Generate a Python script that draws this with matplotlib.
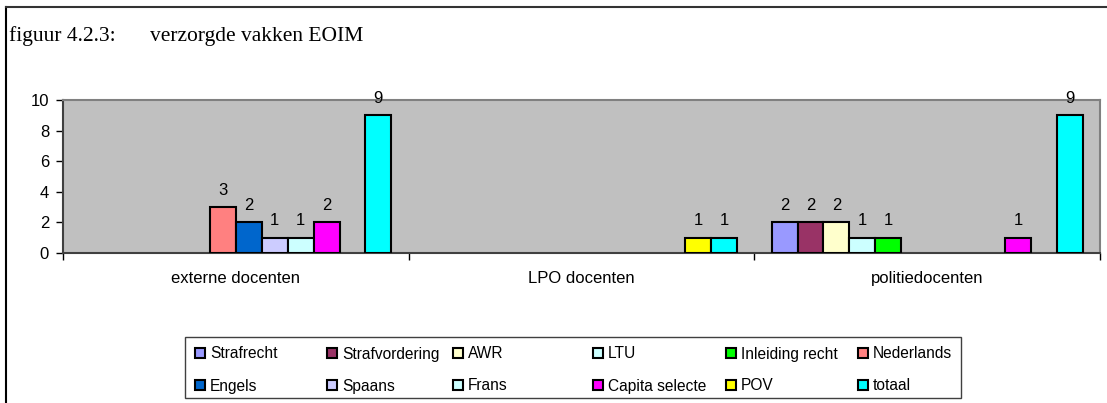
import matplotlib
matplotlib.use('Agg')
from matplotlib import pyplot as plt
from matplotlib.patches import Rectangle
from matplotlib.lines import Line2D
import numpy as np

# data
categories = ['externe docenten', 'LPO docenten', 'politiedocenten']
series = ['Strafrecht', 'Strafvordering', 'AWR', 'LTU', 'Inleiding recht', 'Nederlands',
          'Engels', 'Spaans', 'Frans', 'Capita selecte', 'POV', 'totaal']
values = [
    [0, 0, 2],   # Strafrecht
    [0, 0, 2],   # Strafvordering
    [0, 0, 2],   # AWR
    [0, 0, 1],   # LTU
    [0, 0, 1],   # Inleiding recht
    [3, 0, 0],   # Nederlands
    [2, 0, 0],   # Engels
    [1, 0, 0],   # Spaans
    [1, 0, 0],   # Frans
    [2, 0, 1],   # Capita selecte
    [0, 1, 0],   # POV
    [9, 1, 9],   # totaal
]
colors = ['#9999FF', '#993366', '#FFFFCC', '#CCFFFF', '#00FF00', '#FF8080',
          '#0066CC', '#CCCCFF', '#CCFFFF', '#FF00FF', '#FFFF00', '#00FFFF']

plt.rcParams['font.family'] = 'Liberation Sans'
W, H = 1107, 403
fig = plt.figure(figsize=(W / 100, H / 100), dpi=100)

# outer frame (left and top only)
fig.add_artist(Line2D([6 / W, 6 / W], [0, 1 - 7 / H], color='black', lw=1.5,
                      transform=fig.transFigure))
fig.add_artist(Line2D([6 / W, 1], [1 - 7 / H, 1 - 7 / H], color='#333333', lw=1.5,
                      transform=fig.transFigure))

fig.text(9 / W, 1 - 41 / H, 'figuur 4.2.3:', family='Liberation Serif', fontsize=15.5,
         va='baseline')
fig.text(150 / W, 1 - 41 / H, 'verzorgde vakken EOIM', family='Liberation Serif',
         fontsize=15.5, va='baseline')

ax = fig.add_axes([63 / W, 1 - 253 / H, (1100 - 63) / W, (253 - 100) / H])
ax.set_facecolor('#C0C0C0')

x = np.arange(len(categories))
n = len(series)
bw = 0.9 / n
for i in range(n):
    v = np.array(values[i])
    pos = x - 0.45 + bw * (i + 0.5)
    keep = v > 0
    bars = ax.bar(pos[keep], v[keep], bw, color=colors[i], edgecolor='black',
                  linewidth=1.5, zorder=3)
    for b, val in zip(bars, v[keep]):
        ax.annotate(str(val), (b.get_x() + b.get_width() / 2, val), xytext=(0, 9),
                    textcoords='offset points', ha='center', va='baseline',
                    fontsize=12, annotation_clip=False)

ax.set_xlim(-0.5, len(categories) - 0.5)
ax.set_ylim(0, 10)
ax.set_yticks([0, 2, 4, 6, 8, 10])
ax.tick_params(axis='y', labelsize=12, length=5, width=1, direction='out', pad=5)
ax.set_xticks(np.arange(len(categories) + 1) - 0.5)
ax.set_xticklabels([])
ax.set_xticks(x, minor=True)
ax.set_xticklabels(categories, minor=True)
ax.tick_params(axis='x', which='major', length=5, width=1, direction='out')
ax.tick_params(axis='x', which='minor', length=0, labelsize=12, pad=13)

for s in ['top', 'right']:
    ax.spines[s].set_color('#808080')
    ax.spines[s].set_linewidth(1.5)
for s in ['left', 'bottom']:
    ax.spines[s].set_color('#404040')
    ax.spines[s].set_linewidth(1.5)

# legend box drawn by hand so the columns sit where they do in the original
fig.add_artist(Rectangle((185 / W, 1 - 398 / H), (961 - 185) / W, (398 - 337) / H,
                         transform=fig.transFigure, facecolor='white',
                         edgecolor='#404040', lw=1))
col_x = [195, 327, 453, 593, 726, 858]
row_y = [353, 385]
for i in range(n):
    r, c = divmod(i, 6)
    xm, ym = col_x[c], row_y[r]
    fig.add_artist(Rectangle((xm / W, 1 - (ym + 5) / H), 10 / W, 10 / H,
                             transform=fig.transFigure, facecolor=colors[i],
                             edgecolor='black', lw=1.5))
    fig.text((xm + 15) / W, 1 - (ym + 5.5) / H, series[i], fontsize=11.2, va='baseline')

fig.savefig('out.png', dpi=100)
